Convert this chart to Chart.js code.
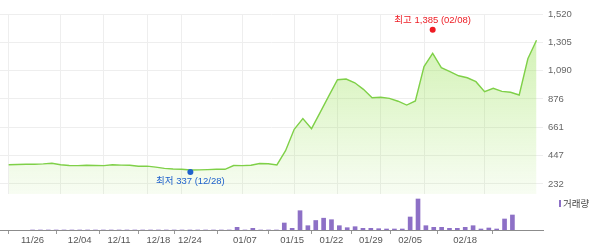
<!DOCTYPE html>
<html lang="ko">
<head>
<meta charset="UTF-8">
<title>주가 차트</title>
<script src="https://cdn.jsdelivr.net/npm/chart.js@4/dist/chart.umd.min.js"></script>
<style>
  body { margin: 0; background: #fff; }
  .wrap { position: relative; width: 600px; height: 248px; }
  #priceChart { position: absolute; left: 0; top: 0; }
  #volChart { position: absolute; left: 0; top: 193px; }
</style>
</head>
<body>
<div class="wrap">
  <canvas id="priceChart" width="600" height="194"></canvas>
  <canvas id="volChart" width="600" height="55"></canvas>
</div>
<script>
  const dates = ['11/26', '11/27', '11/28', '11/29', '11/30', '12/03', '12/04', '12/05', '12/06', '12/07',
    '12/10', '12/11', '12/12', '12/13', '12/14', '12/17', '12/18', '12/19', '12/20', '12/21',
    '12/24', '12/26', '12/27', '12/28', '01/02', '01/03', '01/04', '01/07', '01/08', '01/09',
    '01/10', '01/11', '01/14', '01/15', '01/16', '01/17', '01/18', '01/21', '01/22', '01/23',
    '01/24', '01/25', '01/28', '01/29', '01/30', '01/31', '02/01', '02/04', '02/05', '02/08',
    '02/11', '02/12', '02/13', '02/14', '02/15', '02/18', '02/19', '02/20', '02/21', '02/22',
    '02/25', '02/26'];

  const prices = [378, 380, 381, 382, 384, 389, 378, 372, 371, 374,
    372, 371, 378, 375, 374, 366, 367, 360, 350, 345,
    343, 338, 339, 341, 343, 343, 372, 371, 374, 387,
    385, 376, 484, 646, 727, 651, 774, 899, 1022, 1027,
    999, 949, 886, 889, 881, 859, 830, 861, 1121, 1222,
    1113, 1083, 1052, 1037, 1007, 931, 957, 934, 927, 906,
    1181, 1321];

  const volumes = [0, 0, 0, 0, 0, 0, 0, 0, 0, 0,
    0, 0, 0, 0, 0, 0, 0, 0, 0, 0,
    0, 0, 0, 0, 0, 0, 27000, 0, 17000, 0,
    0, 0, 70000, 17000, 193000, 43000, 95000, 118000, 103000, 43000,
    23000, 33000, 17000, 17000, 13000, 10000, 10000, 10000, 130000, 310000,
    43000, 27000, 27000, 17000, 17000, 27000, 43000, 10000, 20000, 10000,
    110000, 150000];

  // x labels shown under the volume panel
  const tickIdx = [0, 6, 11, 16, 20, 27, 33, 38, 43, 48, 55];
  const yTicks = [232, 447, 661, 876, 1090, 1305, 1520];

  const high = { idx: 49, value: 1385, text: '최고 1,385 (02/08)', color: '#ee1c24' };
  const low = { idx: 21, value: 337, text: '최저 337 (12/28)', color: '#1f62cc' };

  const FONT = "'Liberation Sans', 'Noto Sans CJK KR', sans-serif";

  const markPlugin = {
    id: 'marks',
    afterDatasetsDraw(chart) {
      const { ctx, scales: { x, y } } = chart;
      [[high, -1], [low, 1]].forEach(([m, dir]) => {
        const px = x.getPixelForValue(m.idx);
        const py = y.getPixelForValue(m.value) + dir * 2;
        ctx.save();
        ctx.fillStyle = m.color;
        ctx.beginPath();
        ctx.arc(px, py, 3, 0, Math.PI * 2);
        ctx.fill();
        ctx.font = '9.5px ' + FONT;
        ctx.textAlign = 'center';
        ctx.textBaseline = 'middle';
        ctx.fillText(m.text, px, py + dir * 9.5);
        ctx.restore();
      });
    }
  };

  const legendPlugin = {
    id: 'volLegend',
    afterDraw(chart) {
      const { ctx, chartArea } = chart;
      const ds = chart.data.datasets[0];
      ctx.save();
      ctx.fillStyle = ds.backgroundColor;
      ctx.fillRect(chartArea.right + 16, 7, 2, 7);
      ctx.fillStyle = '#444';
      ctx.font = '9.5px ' + FONT;
      ctx.textBaseline = 'middle';
      ctx.fillText(ds.label, chartArea.right + 20, 11);
      ctx.restore();
    }
  };

  const priceCtx = document.getElementById('priceChart').getContext('2d');
  const grad = priceCtx.createLinearGradient(0, 14, 0, 194);
  grad.addColorStop(0, 'rgba(150, 225, 80, 0.48)');
  grad.addColorStop(1, 'rgba(150, 225, 80, 0.07)');

  new Chart(priceCtx, {
    type: 'line',
    data: {
      datasets: [{
        data: prices.map((v, i) => ({ x: i, y: v })),
        borderColor: '#7fd048',
        borderWidth: 1.4,
        backgroundColor: grad,
        fill: 'start',
        tension: 0,
        pointRadius: 0
      }]
    },
    options: {
      responsive: false,
      animation: false,
      layout: { padding: { top: 14, left: 0, right: 0, bottom: 0 } },
      plugins: { legend: { display: false }, tooltip: { enabled: false } },
      scales: {
        x: {
          type: 'linear',
          min: -1,
          max: 61.75,
          afterBuildTicks: s => { s.ticks = tickIdx.map(v => ({ value: v })); },
          afterFit: s => { s.height = 0; s.paddingLeft = 0; s.paddingRight = 0; },
          ticks: { display: false },
          grid: { color: '#eeeeee', drawTicks: false },
          border: { color: '#8c8c8c' }
        },
        y: {
          position: 'right',
          min: 156,
          max: 1520,
          afterBuildTicks: s => { s.ticks = yTicks.map(v => ({ value: v })); },
          afterFit: s => { s.width = 57; s.paddingTop = 0; s.paddingBottom = 0; },
          ticks: {
            color: '#666',
            padding: 5,
            font: { size: 9.5, family: FONT },
            callback: v => v.toLocaleString('en-US')
          },
          grid: { color: '#eeeeee', drawTicks: false },
          border: { display: false }
        }
      }
    },
    plugins: [markPlugin]
  });

  new Chart(document.getElementById('volChart'), {
    type: 'bar',
    data: {
      datasets: [{
        label: '거래량',
        data: volumes.map((v, i) => ({ x: i, y: v })),
        backgroundColor: '#8d70c6',
        barThickness: 4
      }]
    },
    options: {
      responsive: false,
      animation: false,
      layout: { padding: 0 },
      plugins: { legend: { display: false }, tooltip: { enabled: false } },
      scales: {
        x: {
          type: 'linear',
          min: -1,
          max: 61.75,
          afterBuildTicks: s => { s.ticks = tickIdx.map(v => ({ value: v })); },
          afterFit: s => { s.height = 18; s.paddingLeft = 0; s.paddingRight = 0; },
          ticks: {
            color: '#555',
            padding: 1,
            maxRotation: 0,
            autoSkip: false,
            font: { size: 9.5, family: FONT },
            callback: v => dates[v]
          },
          grid: { drawOnChartArea: false, tickLength: 4, color: '#999' },
          border: { color: '#8c8c8c' }
        },
        y: {
          position: 'right',
          min: 0,
          max: 370000,
          afterFit: s => { s.width = 57; s.paddingTop = 0; s.paddingBottom = 0; },
          ticks: { display: false },
          grid: { display: false },
          border: { display: false }
        }
      }
    },
    plugins: [legendPlugin]
  });
</script>
</body>
</html>
